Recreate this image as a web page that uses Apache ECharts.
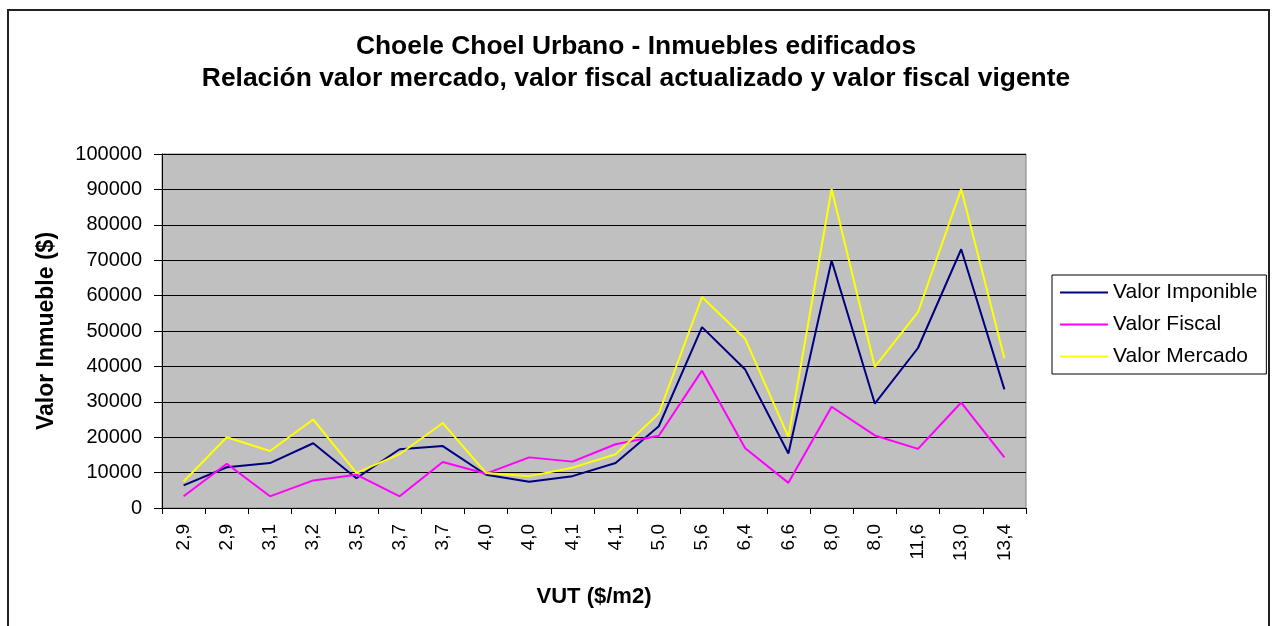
<!DOCTYPE html>
<html>
<head>
<meta charset="utf-8">
<title>Choele Choel Urbano - Inmuebles edificados</title>
<script src="https://cdn.jsdelivr.net/npm/echarts@6/dist/echarts.min.js"></script>
<style>
    html, body { margin: 0; padding: 0; background: #fff; }
    #chart { width: 1272px; height: 626px; }
</style>
</head>
<body>
<div id="chart"></div>
<script>
// VUT ($/m2) - categorias del eje x
var categorias = ['2,9','2,9','3,1','3,2','3,5','3,7','3,7','4,0','4,0','4,1','4,1','5,0','5,6','6,4','6,6','8,0','8,0','11,6','13,0','13,4'];

// valores
var valorImponible = [6400, 11500, 12700, 18300, 8400, 16600, 17500, 9400, 7400, 9000, 12700, 23100, 51100, 39100, 15400, 69900, 29500, 45200, 73100, 33500];
var valorFiscal    = [3300, 12500, 3300, 7800, 9400, 3300, 13000, 9700, 14300, 13100, 18000, 20400, 38800, 16900, 7100, 28600, 20500, 16700, 29800, 14300];
var valorMercado   = [7500, 20000, 16100, 25000, 9900, 15200, 24000, 9900, 9000, 11400, 15200, 26700, 59600, 47800, 20100, 90100, 39900, 55300, 90100, 42300];

var nombres = ['Valor Imponible', 'Valor Fiscal', 'Valor Mercado'];
var colores = ['#000080', '#FF00FF', '#FFFF00'];

var chart = echarts.init(document.getElementById('chart'));
var fuente = 'Liberation Sans, Arial, sans-serif';

function serie(nombre, datos, color) {
    return {
        name: nombre,
        type: 'line',
        data: datos,
        symbol: 'none',
        lineStyle: { color: color, width: 2 },
        itemStyle: { color: color }
    };
}

chart.setOption({
    animation: false,
    textStyle: { fontFamily: fuente },
    title: {
        text: 'Choele Choel Urbano - Inmuebles edificados\nRelación valor mercado, valor fiscal actualizado y valor fiscal vigente',
        left: 'center',
        top: 30,
        padding: 0,
        textStyle: { fontSize: 26.4, fontWeight: 'bold', color: '#000', lineHeight: 32.6, fontFamily: fuente }
    },
    graphic: [{
        type: 'rect',
        shape: { x: 8, y: 10, width: 1261, height: 700 },
        style: { fill: 'none', stroke: '#222', lineWidth: 2 },
        silent: true
    }],
    legend: {
        orient: 'vertical',
        left: 1052,
        top: 275,
        padding: [7, 9, 7, 8],
        itemGap: 11,
        itemWidth: 48,
        itemHeight: 2,
        icon: 'rect',
        backgroundColor: '#fff',
        borderColor: '#000',
        borderWidth: 1,
        textStyle: { fontSize: 21, color: '#000', fontFamily: fuente },
        data: nombres
    },
    grid: {
        left: 162, right: 246, top: 154, bottom: 118,
        show: true,
        backgroundColor: '#C0C0C0',
        borderColor: '#808080',
        borderWidth: 1
    },
    xAxis: {
        type: 'category',
        data: categorias,
        boundaryGap: true,
        name: 'VUT ($/m2)',
        nameLocation: 'middle',
        nameGap: 78,
        nameTextStyle: { fontSize: 22, fontWeight: 'bold', color: '#000' },
        axisLine: { lineStyle: { color: '#000', width: 1 } },
        axisTick: { show: true, interval: 0, length: 6, lineStyle: { color: '#000' } },
        axisLabel: { interval: 0, rotate: 90, margin: 16, fontSize: 19, color: '#000' }
    },
    yAxis: {
        type: 'value',
        min: 0,
        max: 100000,
        interval: 10000,
        name: 'Valor Inmueble ($)',
        nameLocation: 'middle',
        nameRotate: 90,
        nameGap: 104,
        nameTextStyle: { fontSize: 23, fontWeight: 'bold', color: '#000' },
        axisLine: { show: true, lineStyle: { color: '#000', width: 1 } },
        axisTick: { show: true, length: 8, lineStyle: { color: '#000' } },
        axisLabel: { margin: 20, fontSize: 20, color: '#000', formatter: function (v) { return String(v); } },
        splitLine: { show: true, lineStyle: { color: '#000', width: 1 } }
    },
    series: [
        serie(nombres[0], valorImponible, colores[0]),
        serie(nombres[1], valorFiscal, colores[1]),
        serie(nombres[2], valorMercado, colores[2])
    ]
});
</script>
</body>
</html>
